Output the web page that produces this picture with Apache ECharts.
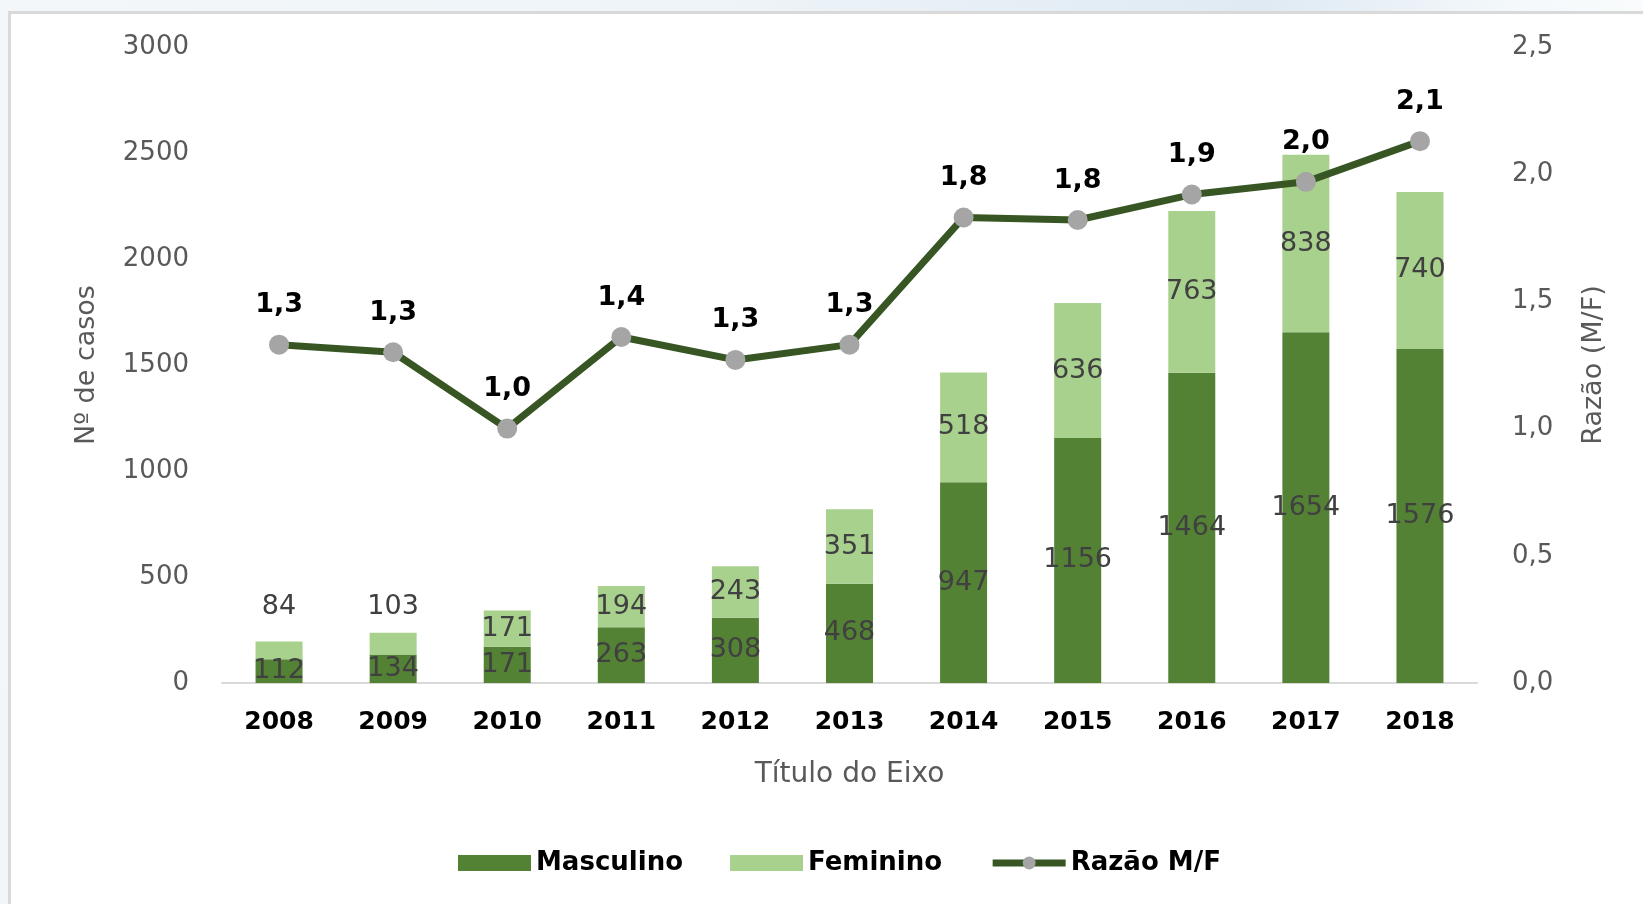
<!DOCTYPE html>
<html>
<head>
<meta charset="utf-8">
<script src="https://cdn.jsdelivr.net/npm/echarts@6/dist/echarts.min.js"></script>
<style>
  html, body { margin:0; padding:0; width:1643px; height:904px; overflow:hidden;
    background: linear-gradient(100deg, #f3f7fa 0%, #eef4f8 40%, #dfeaf3 70%, #f5f9fb 85%, #ffffff 100%); }
  #panel { position:absolute; left:8px; top:11px; right:0; bottom:0; background:#fff;
    border-left:3px solid #d9d9d9; border-top:3px solid #d9d9d9; }
  #chart { position:absolute; left:0; top:0; width:1643px; height:904px; }
</style>
</head>
<body>
<div id="panel"></div>
<div id="chart"></div>
<script>
const categories = ['2008','2009','2010','2011','2012','2013','2014','2015','2016','2017','2018'];
const masculino = [112, 134, 171, 263, 308, 468, 947, 1156, 1464, 1654, 1576];
const feminino  = [84, 103, 171, 194, 243, 351, 518, 636, 763, 838, 740];
const razao     = [1.33, 1.30, 1.00, 1.36, 1.27, 1.33, 1.83, 1.82, 1.92, 1.97, 2.13];
const leftTicks = { min: 0, max: 3000, interval: 500 };
const rightTicks = { min: 0, max: 2.5, interval: 0.5 };

const FONT = 'DejaVu Sans';
const fmtComma = v => Number(v).toFixed(1).replace('.', ',');

const femData = feminino.map((v, i) => {
  if (i === 0) return { value: v, label: { position: 'top', distance: 21 } };
  if (i === 1) return { value: v, label: { position: 'top', distance: 12 } };
  return v;
});

const chart = echarts.init(document.getElementById('chart'), null, { renderer: 'canvas' });
chart.setOption({
  backgroundColor: 'transparent',
  animation: false,
  textStyle: { fontFamily: FONT },
  grid: { left: 222, right: 166, top: 47, bottom: 221 },
  legend: {
    left: 453, top: 845,
    itemWidth: 73, itemHeight: 16, itemGap: 47,
    textStyle: { fontFamily: FONT, fontSize: 26, fontWeight: 'bold', color: '#000' },
    data: [
      { name: 'Masculino', icon: 'rect' },
      { name: 'Feminino', icon: 'rect' },
      { name: 'Razão M/F', lineStyle: { width: 7, color: '#375623' } }
    ]
  },
  xAxis: {
    type: 'category', data: categories,
    name: 'Título do Eixo', nameLocation: 'middle', nameGap: 78,
    nameTextStyle: { fontFamily: FONT, fontSize: 28, color: '#595959' },
    axisLine: { lineStyle: { color: '#d9d9d9', width: 2 } },
    axisTick: { show: false },
    axisLabel: { margin: 27, fontFamily: FONT, fontSize: 25, fontWeight: 'bold', color: '#000' }
  },
  yAxis: [
    {
      type: 'value', min: leftTicks.min, max: leftTicks.max, interval: leftTicks.interval,
      name: 'Nº de casos', nameLocation: 'middle', nameGap: 122, nameRotate: 90,
      nameTextStyle: { fontFamily: FONT, fontSize: 27, color: '#595959' },
      axisLine: { show: false }, axisTick: { show: false }, splitLine: { show: false },
      axisLabel: { margin: 33, fontFamily: FONT, fontSize: 26, color: '#595959', formatter: v => String(v) }
    },
    {
      type: 'value', min: rightTicks.min, max: rightTicks.max, interval: rightTicks.interval,
      name: 'Razão (M/F)', nameLocation: 'middle', nameGap: 103, nameRotate: 90,
      nameTextStyle: { fontFamily: FONT, fontSize: 27, color: '#595959' },
      axisLine: { show: false }, axisTick: { show: false }, splitLine: { show: false },
      axisLabel: { margin: 35, fontFamily: FONT, fontSize: 26, color: '#595959', formatter: fmtComma }
    }
  ],
  series: [
    {
      name: 'Masculino', type: 'bar', stack: 'casos', data: masculino, barWidth: 47,
      itemStyle: { color: '#548235' },
      label: { show: true, position: 'inside', fontFamily: FONT, fontSize: 27, color: '#404040' }
    },
    {
      name: 'Feminino', type: 'bar', stack: 'casos', data: femData, barWidth: 47,
      itemStyle: { color: '#a9d18e' },
      label: { show: true, position: 'inside', fontFamily: FONT, fontSize: 27, color: '#404040' }
    },
    {
      name: 'Razão M/F', type: 'line', yAxisIndex: 1, data: razao, z: 5,
      symbol: 'circle', symbolSize: 20,
      lineStyle: { color: '#375623', width: 7 },
      itemStyle: { color: '#a5a5a5' },
      label: { show: true, position: 'top', distance: 16, fontFamily: FONT, fontSize: 27,
               fontWeight: 'bold', color: '#000', formatter: p => fmtComma(p.value) }
    }
  ]
});
</script>
</body>
</html>
